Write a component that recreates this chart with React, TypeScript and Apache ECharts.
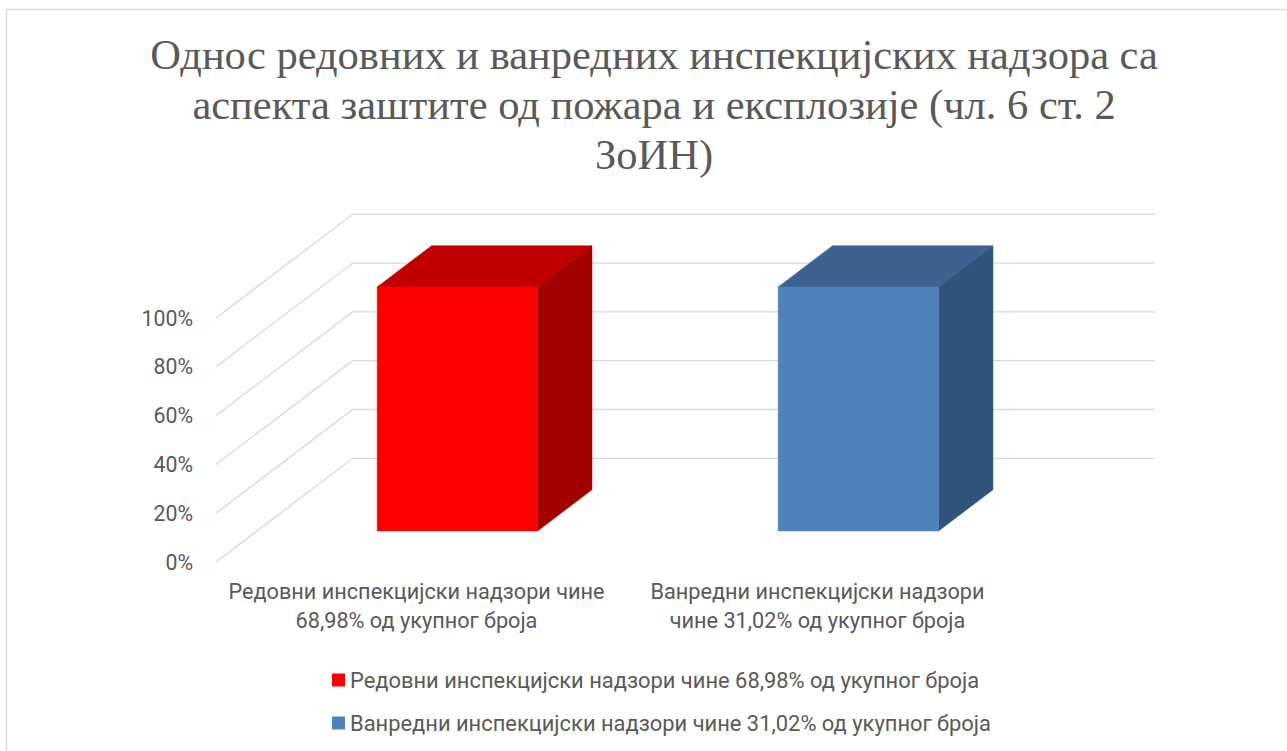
import React, { useEffect, useRef } from "react";
import * as echarts from "echarts";

const titleLines = [
  "Однос редовних и ванредних инспекцијских надзора са",
  "аспекта заштите од пожара и експлозије (чл. 6 ст. 2",
  "ЗоИН)",
];
const categories = [
  "Редовни инспекцијски надзори чине\n68,98% од укупног броја",
  "Ванредни инспекцијски надзори\nчине 31,02% од укупног броја",
];
const seriesNames = [
  "Редовни инспекцијски надзори чине 68,98% од укупног броја",
  "Ванредни инспекцијски надзори чине 31,02% од укупног броја",
];
// raw values per series, one value per category (100% stacked)
const regularValues = [68.98, 0];
const extraordinaryValues = [0, 31.02];
const yTicks = [0, 20, 40, 60, 80, 100];

const FRONT_COLORS = ["#FF0000", "#4F81BD"];
const TOP_COLORS = ["#C00000", "#3D628F"];
const SIDE_COLORS = ["#A30000", "#32547C"];

// 3D depth vector (full floor depth) and bar placement within it
const DX = 136.7;
const DY = -103.7;
const FRONT = 0.299;
const DEPTH = 0.398;
const BAR_RATIO = 0.4;

export default function App() {
  const ref = useRef<HTMLDivElement>(null);
  useEffect(() => {
    if (!ref.current) return;
    const chart = echarts.init(ref.current, null, { renderer: "svg" });
    const all = [regularValues, extraordinaryValues];
    const totals = categories.map((_, i) => all.reduce((s, arr) => s + arr[i], 0));
    const stacked: number[][][] = [];
    const base = categories.map(() => 0);
    all.forEach((arr) => {
      const rows: number[][] = [];
      arr.forEach((v, i) => {
        const pct = totals[i] ? (v / totals[i]) * 100 : 0;
        rows.push([i, base[i], base[i] + pct]);
        base[i] += pct;
      });
      stacked.push(rows);
    });

    const barSeries = stacked.map((rows, si) => ({
      type: "custom",
      name: seriesNames[si],
      itemStyle: { color: FRONT_COLORS[si] },
      encode: { x: 0, y: 2 },
      data: rows,
      z: 5,
      renderItem: (params: any, api: any) => {
        const cat = api.value(0);
        const b = api.value(1);
        const t = api.value(2);
        if (t - b <= 0) return null;
        const p0 = api.coord([cat, b]);
        const p1 = api.coord([cat, t]);
        const band = api.size([1, 0])[0];
        const w = band * BAR_RATIO;
        const fx = DX * FRONT;
        const fy = DY * FRONT;
        const dx = DX * DEPTH;
        const dy = DY * DEPTH;
        const xl = p0[0] - w / 2 + fx;
        const xr = p0[0] + w / 2 + fx;
        const yb = p0[1] + fy;
        const yt = p1[1] + fy;
        return {
          type: "group",
          children: [
            {
              type: "polygon",
              shape: { points: [[xl, yt], [xr, yt], [xr + dx, yt + dy], [xl + dx, yt + dy]] },
              style: { fill: TOP_COLORS[si], stroke: TOP_COLORS[si], lineWidth: 0.5 },
            },
            {
              type: "polygon",
              shape: { points: [[xr, yt], [xr + dx, yt + dy], [xr + dx, yb + dy], [xr, yb]] },
              style: { fill: SIDE_COLORS[si], stroke: SIDE_COLORS[si], lineWidth: 0.5 },
            },
            {
              type: "rect",
              shape: { x: xl, y: yt, width: xr - xl, height: yb - yt },
              style: { fill: FRONT_COLORS[si], stroke: FRONT_COLORS[si], lineWidth: 0.5 },
            },
          ],
        };
      },
    }));

    const gridSeries = {
      type: "custom",
      name: "grid",
      silent: true,
      z: 1,
      data: yTicks.map((v) => [0, v]),
      encode: { x: 0, y: 1 },
      renderItem: (params: any, api: any) => {
        const cs = params.coordSys;
        const y = api.coord([0, api.value(1)])[1];
        return {
          type: "polyline",
          shape: {
            points: [
              [cs.x, y],
              [cs.x + DX, y + DY],
              [cs.x + cs.width + DX, y + DY],
            ],
          },
          style: { stroke: "#D9D9D9", lineWidth: 1.3, fill: "none" },
        };
      },
    };

    const textColor = "#595959";
    const sans = "Roboto";

    chart.setOption({
      animation: false,
      backgroundColor: "#FFFFFF",
      title: {
        text: titleLines.join("\n"),
        left: 649,
        top: 24,
        textAlign: "center",
        textStyle: {
          fontFamily: "Liberation Serif",
          fontSize: 42.5,
          fontWeight: "normal",
          color: textColor,
          lineHeight: 50,
        },
      },
      graphic: [
        {
          type: "rect",
          shape: { x: 6.5, y: 9.5, width: 1320, height: 780 },
          style: { fill: "none", stroke: "#D9D9D9", lineWidth: 1.3 },
          silent: true,
        },
      ],
      legend: {
        data: seriesNames,
        orient: "vertical",
        left: 327,
        top: 663,
        icon: "rect",
        itemWidth: 13,
        itemHeight: 13,
        itemGap: 19,
        textStyle: { fontFamily: sans, fontSize: 21.9, color: textColor, lineHeight: 24 },
      },
      grid: { left: 216, width: 802, top: 318, height: 244, containLabel: false },
      xAxis: {
        type: "category",
        data: categories,
        axisLine: { show: false },
        axisTick: { show: false },
        splitLine: { show: false },
        axisLabel: {
          interval: 0,
          margin: 15,
          fontFamily: sans,
          fontSize: 21.7,
          lineHeight: 29,
          color: textColor,
        },
      },
      yAxis: {
        type: "value",
        min: 0,
        max: 100,
        interval: 20,
        axisLine: { show: false },
        axisTick: { show: false },
        splitLine: { show: false },
        axisLabel: {
          formatter: "{value}%",
          margin: 23,
          fontFamily: sans,
          fontSize: 21.3,
          color: textColor,
        },
      },
      series: [gridSeries, ...barSeries],
    });
    return () => chart.dispose();
  }, []);
  return (
    <div
      ref={ref}
      style={{ position: "fixed", left: 0, top: 0, width: 1287, height: 751 }}
    />
  );
}
